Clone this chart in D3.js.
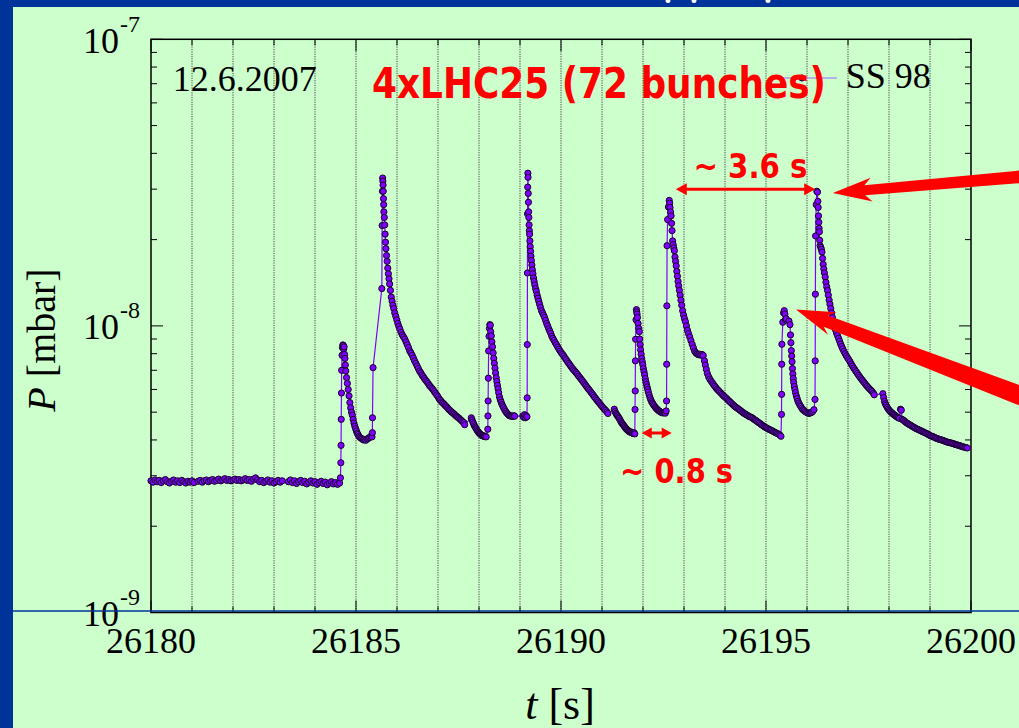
<!DOCTYPE html>
<meta charset="utf-8">

<!-- Load d3.js -->
<script src="https://cdn.jsdelivr.net/npm/d3@7"></script>

<style>
  body { margin: 0; background: #ccffcc; overflow: hidden; }
  svg text { font-family: "Liberation Serif", "Times New Roman", serif; }
  .red { font-family: "Comic Sans MS", "DejaVu Sans", sans-serif; font-weight: bold; fill: #ff0000; }
</style>

<div id="my_dataviz"></div>

<script>

  // pressures are in units of 1e-9 mbar, times in s
  var UNIT = 1e-9;

  var xTickValues = [26180, 26185, 26190, 26195, 26200];
  var yDecades = [1e-9, 1e-8, 1e-7];
  var yExponents = ["-9", "-8", "-7"];

  // flat level before injection
  var baseline = [
    [26180.00,2.88],[26180.05,2.85],[26180.10,2.90],[26180.15,2.86],[26180.20,2.89],[26180.25,2.84],
    [26180.30,2.88],[26180.35,2.91],[26180.40,2.86],[26180.45,2.83],[26180.50,2.87],[26180.55,2.90],
    [26180.60,2.85],[26180.65,2.88],[26180.70,2.84],[26180.75,2.89],[26180.80,2.86],[26180.85,2.83],
    [26180.90,2.87],[26180.95,2.85],[26181.00,2.88],[26181.05,2.84],
    [26181.15,2.87],[26181.20,2.89],[26181.25,2.85],[26181.30,2.88],[26181.35,2.90],[26181.40,2.86],
    [26181.45,2.89],[26181.50,2.91],[26181.55,2.87],[26181.60,2.89],[26181.65,2.92],[26181.70,2.88],
    [26181.75,2.90],[26181.80,2.93],[26181.85,2.89],[26181.90,2.91],[26181.95,2.88],[26182.00,2.90],
    [26182.05,2.92],[26182.10,2.89],[26182.15,2.91],[26182.20,2.88],[26182.25,2.90],[26182.30,2.93],
    [26182.35,2.89],[26182.40,2.91],[26182.45,2.87],[26182.50,2.92],[26182.55,2.95],[26182.60,2.90],
    [26182.65,2.86],[26182.70,2.89],[26182.75,2.84],[26182.80,2.87],[26182.85,2.90],[26182.90,2.85],
    [26182.95,2.88],[26183.00,2.83],[26183.05,2.86],[26183.10,2.89],[26183.15,2.85],[26183.20,2.88],
    [26183.35,2.86],[26183.40,2.90],[26183.45,2.84],[26183.50,2.88],[26183.55,2.82],[26183.60,2.86],
    [26183.65,2.89],[26183.70,2.84],[26183.75,2.87],[26183.80,2.81],[26183.85,2.85],[26183.90,2.88],
    [26183.95,2.83],[26184.00,2.86],[26184.05,2.80],[26184.10,2.84],[26184.15,2.87],[26184.20,2.82],
    [26184.25,2.85],[26184.30,2.79],[26184.35,2.83],[26184.40,2.86],[26184.45,2.81],[26184.50,2.84],
    [26184.55,2.80],[26184.60,2.83]
  ];

  // first (small) pressure rise
  var rise1 = [
    [26184.620,2.95],[26184.630,3.33],[26184.635,3.83],[26184.640,4.72],[26184.645,5.83],[26184.650,7.00],
    [26184.660,7.90],[26184.670,8.40],[26184.680,8.58],[26184.690,8.55],[26184.700,8.30],[26184.710,8.45],
    [26184.720,7.95],[26184.730,7.70],[26184.740,7.30],[26184.750,6.96],[26184.770,6.60],[26184.790,6.30],
    [26184.810,6.00],[26184.830,5.70],[26184.850,5.40],[26184.870,5.18],[26184.890,5.00],[26184.910,4.88],
    [26184.930,4.72],[26184.950,4.58],[26184.970,4.47],[26184.990,4.38],[26185.010,4.30],[26185.030,4.22],
    [26185.050,4.18],[26185.070,4.12],[26185.090,4.09],[26185.120,4.06],[26185.150,4.03],[26185.180,4.00],
    [26185.210,4.01],[26185.240,3.99],[26185.270,4.03],[26185.300,4.05],[26185.330,4.08],[26185.360,4.12],
    [26185.390,4.10]
  ];

  // second rise and long decay
  var rise2 = [
    [26185.400,4.24],[26185.402,4.78],[26185.416,7.15],[26185.630,13.5],[26185.638,22.4],[26185.645,29.5],
    [26185.650,32.8],[26185.655,32.0],[26185.660,31.0],[26185.665,29.5],[26185.670,27.8],[26185.675,26.5],
    [26185.680,25.0],[26185.690,23.9],[26185.700,22.5],[26185.710,20.9],[26185.720,19.6],[26185.730,18.6],
    [26185.745,17.6],[26185.760,16.8],[26185.775,15.9],[26185.790,15.2],[26185.805,14.6],[26185.820,14.0],
    [26185.840,13.3],[26185.860,12.6],[26185.880,12.2],[26185.900,11.8],[26185.920,11.5],[26185.945,11.1],
    [26185.970,10.8],[26185.995,10.5],[26186.020,10.2],[26186.045,9.95],[26186.070,9.75],[26186.100,9.50],
    [26186.130,9.30],[26186.160,9.15],[26186.190,9.00],[26186.220,8.80],[26186.250,8.60],[26186.280,8.40],
    [26186.310,8.18],[26186.340,8.05],[26186.370,7.90],[26186.400,7.72],[26186.430,7.55],[26186.460,7.40],
    [26186.490,7.25],[26186.520,7.10],[26186.550,6.96],[26186.580,6.86],[26186.610,6.74],[26186.640,6.65],
    [26186.670,6.55],[26186.700,6.46],[26186.730,6.38],[26186.760,6.30],[26186.790,6.20],[26186.820,6.13],
    [26186.850,6.06],[26186.880,5.99],[26186.910,5.90],[26186.940,5.82],[26186.970,5.74],[26187.000,5.66],
    [26187.030,5.56],[26187.060,5.50],[26187.090,5.43],[26187.120,5.38],[26187.150,5.33],[26187.180,5.27],
    [26187.210,5.22],[26187.240,5.16],[26187.270,5.10],[26187.300,5.06],[26187.330,5.01],[26187.360,4.97],
    [26187.390,4.93],[26187.420,4.88],[26187.450,4.84],[26187.480,4.80],[26187.510,4.77],[26187.540,4.72],
    [26187.570,4.68],[26187.600,4.63],[26187.630,4.60],[26187.650,4.52]
  ];

  // third (small) rise
  var rise3 = [
    [26187.812,4.78],[26187.830,4.70],[26187.850,4.62],[26187.870,4.55],[26187.890,4.48],[26187.910,4.43],
    [26187.930,4.38],[26187.950,4.33],[26187.970,4.29],[26187.990,4.25],[26188.010,4.22],[26188.030,4.19],
    [26188.050,4.17],[26188.070,4.15],[26188.090,4.13],[26188.110,4.14],[26188.130,4.11],[26188.150,4.12],
    [26188.175,4.10],[26188.215,4.36],[26188.218,4.85],[26188.222,5.47],[26188.228,6.57],[26188.235,8.18],
    [26188.245,9.20],[26188.255,9.80],[26188.265,10.1],[26188.275,10.05],[26188.285,9.55],[26188.300,9.23],
    [26188.315,8.80],[26188.330,8.45],[26188.345,8.05],[26188.360,7.70],[26188.375,7.40],[26188.390,7.12],
    [26188.405,6.85],[26188.420,6.60],[26188.435,6.40],[26188.450,6.20],[26188.465,6.03],[26188.480,5.85],
    [26188.500,5.65],[26188.520,5.52],[26188.540,5.42],[26188.560,5.32],[26188.580,5.25],[26188.600,5.18],
    [26188.625,5.10],[26188.650,5.03],[26188.675,4.97],[26188.700,4.93],[26188.725,4.88],[26188.750,4.86],
    [26188.775,4.84],[26188.800,4.85],[26188.825,4.83],[26188.850,4.86],[26188.870,4.84]
  ];

  // fourth rise and decay
  var rise4 = [
    [26189.070,4.85],[26189.090,4.80],[26189.110,4.90],[26189.130,4.78],[26189.150,4.86],[26189.170,4.82],
    [26189.175,5.61],[26189.178,8.61],[26189.181,15.3],[26189.184,24.6],[26189.188,30.5],[26189.192,34.1],
    [26189.196,33.0],[26189.201,29.0],[26189.206,27.0],[26189.211,25.0],[26189.216,23.9],[26189.222,22.5],
    [26189.228,21.5],[26189.234,20.9],[26189.242,19.8],[26189.250,18.9],[26189.258,18.2],[26189.267,17.5],
    [26189.278,16.9],[26189.290,16.3],[26189.302,15.7],[26189.316,15.2],[26189.330,14.7],[26189.345,14.3],
    [26189.362,13.9],[26189.380,13.5],[26189.398,13.2],[26189.418,12.8],[26189.438,12.5],[26189.458,12.2],
    [26189.478,11.9],[26189.500,11.6],[26189.525,11.3],[26189.550,11.1],[26189.575,10.9],[26189.600,10.7],
    [26189.625,10.45],[26189.650,10.2],[26189.675,10.0],[26189.700,9.78],[26189.725,9.60],[26189.750,9.42],
    [26189.775,9.20],[26189.800,9.05],[26189.830,8.90],[26189.860,8.74],[26189.890,8.60],[26189.920,8.44],
    [26189.950,8.30],[26189.980,8.17],[26190.010,8.05],[26190.040,7.95],[26190.070,7.85],[26190.100,7.72],
    [26190.130,7.62],[26190.160,7.50],[26190.190,7.40],[26190.220,7.30],[26190.250,7.20],[26190.280,7.10],
    [26190.310,7.02],[26190.340,6.94],[26190.370,6.86],[26190.400,6.78],[26190.430,6.68],[26190.460,6.60],
    [26190.490,6.52],[26190.520,6.44],[26190.550,6.35],[26190.580,6.27],[26190.610,6.18],[26190.640,6.10],
    [26190.670,6.02],[26190.700,5.95],[26190.730,5.87],[26190.760,5.80],[26190.790,5.72],[26190.820,5.64],
    [26190.850,5.57],[26190.880,5.50],[26190.910,5.43],[26190.940,5.37],[26190.970,5.30],[26191.000,5.24],
    [26191.030,5.18],[26191.060,5.12],[26191.090,5.07],[26191.120,5.01],[26191.145,4.95]
  ];

  // fifth (small) rise
  var rise5 = [
    [26191.300,5.12],[26191.320,5.02],[26191.340,4.95],[26191.360,4.90],[26191.380,4.85],[26191.400,4.80],
    [26191.420,4.76],[26191.440,4.70],[26191.460,4.64],[26191.480,4.59],[26191.500,4.55],[26191.520,4.51],
    [26191.540,4.47],[26191.560,4.43],[26191.580,4.39],[26191.600,4.36],[26191.620,4.33],[26191.640,4.31],
    [26191.660,4.28],[26191.680,4.26],[26191.700,4.27],[26191.720,4.24],[26191.740,4.23],[26191.760,4.21],
    [26191.780,4.24],[26191.800,4.20],[26191.806,5.11],[26191.810,5.93],[26191.815,7.55],[26191.820,8.98],
    [26191.830,10.5],[26191.840,11.4],[26191.846,11.2],[26191.855,11.0],[26191.865,10.7],[26191.880,10.2],
    [26191.895,9.80],[26191.910,9.55],[26191.920,9.00],[26191.930,8.60],[26191.942,8.25],[26191.955,7.96],
    [26191.968,7.70],[26191.982,7.50],[26191.995,7.32],[26192.010,7.10],[26192.025,6.92],[26192.040,6.75],
    [26192.055,6.55],[26192.070,6.38],[26192.085,6.25],[26192.100,6.12],[26192.115,6.00],[26192.130,5.88],
    [26192.150,5.74],[26192.170,5.62],[26192.190,5.52],[26192.210,5.44],[26192.230,5.38],[26192.250,5.32],
    [26192.275,5.26],[26192.300,5.20],[26192.325,5.15],[26192.350,5.11],[26192.375,5.07],[26192.400,5.04],
    [26192.425,5.01],[26192.450,4.99],[26192.475,4.97],[26192.500,4.98],[26192.525,5.00],[26192.545,4.96],
    [26192.565,5.05]
  ];

  // sixth rise and decay
  var rise6 = [
    [26192.575,5.47],[26192.578,7.35],[26192.582,11.75],[26192.587,19.05],[26192.600,23.5],[26192.620,26.0],
    [26192.640,27.4],[26192.650,26.8],[26192.660,25.9],[26192.672,25.0],[26192.685,24.2],[26192.697,22.8],
    [26192.709,21.5],[26192.723,19.8],[26192.737,19.2],[26192.751,18.7],[26192.765,18.3],[26192.780,17.4],
    [26192.795,16.8],[26192.810,16.2],[26192.825,15.5],[26192.840,14.9],[26192.855,14.3],[26192.870,13.8],
    [26192.887,13.3],[26192.905,12.8],[26192.925,12.3],[26192.945,11.8],[26192.967,11.3],[26192.990,10.9],
    [26193.012,10.6],[26193.035,10.35],[26193.060,10.0],[26193.085,9.65],[26193.110,9.40],[26193.140,9.15],
    [26193.170,8.88],[26193.200,8.62],[26193.230,8.38],[26193.260,8.16],[26193.290,8.05],[26193.320,7.98],
    [26193.350,7.94],[26193.380,7.97],[26193.410,7.90],[26193.440,7.95],[26193.470,7.88],[26193.500,7.55],
    [26193.520,7.30],[26193.545,7.05],[26193.570,6.82],[26193.600,6.65],[26193.630,6.52],[26193.660,6.42],
    [26193.690,6.34],[26193.720,6.24],[26193.750,6.16],[26193.780,6.08],[26193.810,6.01],[26193.840,5.95],
    [26193.870,5.89],[26193.900,5.83],[26193.930,5.77],[26193.960,5.71],[26193.990,5.66],[26194.020,5.61],
    [26194.050,5.56],[26194.080,5.50],[26194.110,5.45],[26194.140,5.40],[26194.170,5.35],[26194.200,5.30],
    [26194.230,5.25],[26194.260,5.21],[26194.290,5.17],[26194.320,5.14],[26194.350,5.10],[26194.380,5.06],
    [26194.410,5.02],[26194.440,4.98],[26194.470,4.95],[26194.500,4.92],[26194.530,4.89],[26194.560,4.86],
    [26194.590,4.83],[26194.620,4.81],[26194.650,4.79],[26194.680,4.76],[26194.710,4.72],[26194.740,4.69],
    [26194.770,4.66],[26194.800,4.62],[26194.830,4.59],[26194.860,4.56],[26194.890,4.52],[26194.920,4.49],
    [26194.950,4.46],[26194.980,4.43],[26195.010,4.41],[26195.040,4.38],[26195.070,4.36],[26195.100,4.34],
    [26195.130,4.32],[26195.160,4.30],[26195.190,4.27],[26195.220,4.25],[26195.250,4.23],[26195.280,4.21],
    [26195.310,4.19],[26195.340,4.16],[26195.365,4.12]
  ];

  // seventh (small) rise
  var rise7 = [
    [26195.378,4.91],[26195.381,5.77],[26195.384,7.35],[26195.388,8.63],[26195.410,10.3],[26195.430,11.1],
    [26195.445,11.3],[26195.460,11.0],[26195.475,10.5],[26195.490,10.6],[26195.560,10.4],[26195.585,10.1],
    [26195.598,9.30],[26195.608,8.74],[26195.618,8.20],[26195.627,7.85],[26195.636,7.50],[26195.645,7.10],
    [26195.655,6.80],[26195.665,6.55],[26195.675,6.35],[26195.690,6.15],[26195.705,6.00],[26195.720,5.85],
    [26195.740,5.70],[26195.760,5.58],[26195.780,5.46],[26195.800,5.38],[26195.825,5.30],[26195.850,5.23],
    [26195.875,5.16],[26195.900,5.10],[26195.930,5.06],[26195.960,5.02],[26195.990,4.99],[26196.020,4.97],
    [26196.050,4.95],[26196.080,4.97],[26196.110,4.99],[26196.140,5.03],[26196.170,5.10]
  ];

  // eighth rise and decay to the end
  var rise8 = [
    [26196.195,5.54],[26196.200,7.55],[26196.204,12.9],[26196.210,20.6],[26196.225,26.5],[26196.240,29.5],
    [26196.255,29.3],[26196.265,27.2],[26196.272,25.9],[26196.280,24.2],[26196.288,23.0],[26196.295,21.9],
    [26196.302,21.3],[26196.310,19.9],[26196.320,19.05],[26196.335,18.8],[26196.350,18.5],[26196.365,18.1],
    [26196.380,17.2],[26196.395,16.4],[26196.410,15.8],[26196.425,15.3],[26196.443,14.8],[26196.462,14.2],
    [26196.481,13.7],[26196.500,13.3],[26196.520,12.8],[26196.540,12.3],[26196.560,11.9],[26196.580,11.5],
    [26196.600,11.1],[26196.620,10.7],[26196.645,10.3],[26196.670,10.0],[26196.695,9.70],[26196.720,9.45],
    [26196.745,9.25],[26196.770,9.05],[26196.795,8.85],[26196.820,8.65],[26196.845,8.48],[26196.870,8.32],
    [26196.900,8.15],[26196.930,8.00],[26196.960,7.86],[26196.990,7.74],[26197.020,7.62],[26197.050,7.50],
    [26197.080,7.36],[26197.110,7.24],[26197.140,7.12],[26197.170,7.02],[26197.200,6.92],[26197.230,6.82],
    [26197.260,6.72],[26197.290,6.63],[26197.320,6.54],[26197.350,6.46],[26197.380,6.38],[26197.410,6.30],
    [26197.440,6.22],[26197.470,6.15],[26197.500,6.08],[26197.530,6.02],[26197.560,5.96],[26197.590,5.90],
    [26197.620,5.82],[26197.640,5.75],
    [26197.850,5.80],[26197.870,5.62],[26197.890,5.45],[26197.910,5.35],[26197.930,5.28],[26197.955,5.20],
    [26197.980,5.13],[26198.005,5.08],[26198.030,5.03],[26198.055,4.99],[26198.080,4.96],[26198.105,4.92],
    [26198.130,4.89],[26198.155,4.86],[26198.180,4.83],[26198.205,4.80],[26198.230,4.78],[26198.255,4.76],
    [26198.280,5.12],[26198.300,5.08],[26198.320,4.72],[26198.350,4.69],[26198.380,4.65],[26198.410,4.61],
    [26198.440,4.58],[26198.470,4.55],[26198.500,4.52],[26198.530,4.50],[26198.560,4.47],[26198.590,4.44],
    [26198.620,4.42],[26198.650,4.39],[26198.680,4.37],[26198.710,4.35],[26198.740,4.33],[26198.770,4.31],
    [26198.800,4.29],[26198.830,4.27],[26198.860,4.25],[26198.890,4.23],[26198.920,4.21],[26198.950,4.19],
    [26198.980,4.16],[26199.010,4.14],[26199.040,4.12],[26199.070,4.11],[26199.100,4.09],[26199.130,4.07],
    [26199.160,4.05],[26199.190,4.04],[26199.220,4.02],[26199.250,4.01],[26199.280,4.00],[26199.310,3.99],
    [26199.340,3.97],[26199.370,3.96],[26199.400,3.94],[26199.430,3.93],[26199.460,3.92],[26199.490,3.91],
    [26199.520,3.90],[26199.550,3.89],[26199.580,3.88],[26199.610,3.86],[26199.640,3.85],[26199.670,3.84],
    [26199.700,3.83],[26199.730,3.82],[26199.760,3.80],[26199.790,3.79],[26199.820,3.78],[26199.850,3.77],
    [26199.880,3.76],[26199.910,3.75]
  ];

  var data = [].concat(baseline, rise1, rise2, rise3, rise4, rise5, rise6, rise7, rise8);

  // annotations, in data units [t, p/1e-9]
  var period36 = [[26192.80, 30.0], [26196.20, 30.0]];
  var period08 = [[26191.97, 4.23], [26192.70, 4.23]];
  var arrowBig = [[26196.63, 29.1], [26201.70, 33.6]];     // tip, tail
  var arrowSmall = [[26195.73, 11.4], [26201.80, 5.3]];

  // set the dimensions and margins of the graph
  var margin = { top: 39.3, right: 48, bottom: 115.5, left: 151 },
    width = 1019 - margin.left - margin.right,
    height = 728 - margin.top - margin.bottom;

  var root = d3.select("#my_dataviz")
    .append("svg")
    .attr("width", 1019)
    .attr("height", 728);

  // slide background
  root.append("rect").attr("width", 1019).attr("height", 728).attr("fill", "#ccffcc");
  root.append("rect").attr("width", 1019).attr("height", 7).attr("fill", "#003399");
  root.append("rect").attr("width", 13).attr("height", 728).attr("fill", "#003399");
  [668, 694, 768].forEach(function (cx) {
    root.append("ellipse").attr("cx", cx).attr("cy", 1).attr("rx", 2.5).attr("ry", 2).attr("fill", "#fff");
  });

  var svg = root.append("g")
    .attr("transform", "translate(" + margin.left + "," + margin.top + ")");

  var x = d3.scaleLinear().domain([26180, 26200]).range([0, width]);
  var y = d3.scaleLog().domain([1e-9, 1e-7]).range([height, 0]);

  // dotted vertical grid every second
  svg.append("g")
    .selectAll("line")
    .data(x.ticks(20).filter(function (d) { return d > 26180 && d < 26200; }))
    .enter()
    .append("line")
    .attr("x1", function (d) { return x(d); })
    .attr("x2", function (d) { return x(d); })
    .attr("y1", 0)
    .attr("y2", height)
    .attr("stroke", "#444")
    .attr("stroke-width", 1)
    .attr("stroke-dasharray", "1.2,1.2");

  // ticks on all four sides, pointing inward
  var ticks = svg.append("g").attr("stroke", "#000").attr("stroke-width", 1);
  x.ticks(20).forEach(function (d) {
    var len = (d % 5 === 0) ? 12 : 6;
    ticks.append("line").attr("x1", x(d)).attr("x2", x(d)).attr("y1", height).attr("y2", height - len);
    ticks.append("line").attr("x1", x(d)).attr("x2", x(d)).attr("y1", 0).attr("y2", len);
  });
  y.ticks().forEach(function (d) {
    var len = yDecades.indexOf(d) >= 0 ? 12 : 6;
    ticks.append("line").attr("x1", 0).attr("x2", len).attr("y1", y(d)).attr("y2", y(d));
    ticks.append("line").attr("x1", width).attr("x2", width - len).attr("y1", y(d)).attr("y2", y(d));
  });

  // slide rule line
  root.append("line")
    .attr("x1", 13).attr("x2", 1019).attr("y1", 611).attr("y2", 611)
    .attr("stroke", "#003399").attr("stroke-width", 1.5);

  // frame
  svg.append("rect")
    .attr("width", width).attr("height", height)
    .attr("fill", "none").attr("stroke", "#000").attr("stroke-width", 1.5);

  // data
  svg.append("clipPath").attr("id", "plotclip")
    .append("rect").attr("x", -4).attr("y", -4).attr("width", width + 8).attr("height", height + 8);

  var plot = svg.append("g").attr("clip-path", "url(#plotclip)");

  plot.append("path")
    .datum(data)
    .attr("fill", "none")
    .attr("stroke", "#8000ff")
    .attr("stroke-width", 1.2)
    .attr("d", d3.line()
      .x(function (d) { return x(d[0]); })
      .y(function (d) { return y(d[1] * UNIT); }));

  plot.append("g")
    .selectAll("circle")
    .data(data)
    .enter()
    .append("circle")
    .attr("cx", function (d) { return x(d[0]); })
    .attr("cy", function (d) { return y(d[1] * UNIT); })
    .attr("r", 3.1)
    .attr("fill", "#7f00ff")
    .attr("stroke", "#160028")
    .attr("stroke-width", 1);

  // x tick labels
  svg.append("g")
    .selectAll("text")
    .data(xTickValues)
    .enter()
    .append("text")
    .attr("x", function (d) { return x(d); })
    .attr("y", height + 41)
    .attr("text-anchor", "middle")
    .attr("font-size", 36)
    .text(function (d) { return d; });

  // y tick labels 10^n
  yDecades.forEach(function (d, i) {
    var t = svg.append("text")
      .attr("x", -68)
      .attr("y", y(d) + 13.5)
      .attr("font-size", 36);
    t.append("tspan").text("10");
    t.append("tspan").attr("dy", -21).attr("dx", 1).attr("font-size", 24).text(yExponents[i]);
  });

  // axis titles
  var xt = root.append("text")
    .attr("x", 560).attr("y", 719)
    .attr("text-anchor", "middle")
    .attr("font-size", 44);
  xt.append("tspan").attr("font-style", "italic").text("t");
  xt.append("tspan").text(" [s]");

  var yt = root.append("text")
    .attr("transform", "translate(55,340) rotate(-90)")
    .attr("text-anchor", "middle")
    .attr("font-size", 40);
  yt.append("tspan").attr("font-style", "italic").text("P");
  yt.append("tspan").text(" [mbar]");

  // date and legend
  root.append("text").attr("x", 172.7).attr("y", 90.7).attr("font-size", 36).text("12.6.2007");

  root.append("line")
    .attr("x1", 770).attr("x2", 837).attr("y1", 78).attr("y2", 78)
    .attr("stroke", "#9966ff").attr("stroke-width", 1.2);
  root.append("circle")
    .attr("cx", 802).attr("cy", 78).attr("r", 3.1)
    .attr("fill", "#7f00ff").attr("stroke", "#160028").attr("stroke-width", 1);
  root.append("text").attr("x", 845.7).attr("y", 88.3).attr("font-size", 36).text("SS 98");

  root.append("text")
    .attr("class", "red")
    .attr("x", 372).attr("y", 98)
    .attr("font-size", 43)
    .attr("textLength", 454)
    .attr("lengthAdjust", "spacingAndGlyphs")
    .text("4xLHC25 (72 bunches)");

  // double-headed period arrows
  function periodArrow(pts, head, half) {
    var x0 = x(pts[0][0]), x1 = x(pts[1][0]), yy = y(pts[0][1] * UNIT);
    svg.append("line")
      .attr("x1", x0 + head - 1).attr("x2", x1 - head + 1).attr("y1", yy).attr("y2", yy)
      .attr("stroke", "#ff0000").attr("stroke-width", 3);
    svg.append("path")
      .attr("d", "M" + x0 + "," + yy + "L" + (x0 + head) + "," + (yy - half) + "L" + (x0 + head) + "," + (yy + half) + "Z")
      .attr("fill", "#ff0000");
    svg.append("path")
      .attr("d", "M" + x1 + "," + yy + "L" + (x1 - head) + "," + (yy - half) + "L" + (x1 - head) + "," + (yy + half) + "Z")
      .attr("fill", "#ff0000");
  }
  periodArrow(period36, 11, 6);
  periodArrow(period08, 10, 5.5);

  svg.append("text")
    .attr("class", "red")
    .attr("x", x(26194.62)).attr("y", y(32.8 * UNIT))
    .attr("text-anchor", "middle")
    .attr("font-size", 33)
    .attr("textLength", 114)
    .attr("lengthAdjust", "spacingAndGlyphs")
    .text("~ 3.6 s");

  svg.append("text")
    .attr("class", "red")
    .attr("x", x(26192.82)).attr("y", y(2.83 * UNIT))
    .attr("text-anchor", "middle")
    .attr("font-size", 33)
    .attr("textLength", 113)
    .attr("lengthAdjust", "spacingAndGlyphs")
    .text("~ 0.8 s");

  // big pointing arrows
  function bigArrow(pts, w0, w1) {
    var tx = x(pts[0][0]), ty = y(pts[0][1] * UNIT);
    var ex = x(pts[1][0]), ey = y(pts[1][1] * UNIT);
    var len = Math.hypot(ex - tx, ey - ty);
    var ux = (ex - tx) / len, uy = (ey - ty) / len;
    var nx = -uy, ny = ux;
    var hl = 39, hw = 12, nl = 32;
    function p(a, b) { return [tx + ux * a + nx * b, ty + uy * a + ny * b]; }
    var poly = [p(0, 0), p(hl, hw), p(nl, w0), p(len, w1), p(len, -w1), p(nl, -w0), p(hl, -hw)];
    svg.append("path")
      .attr("d", "M" + poly.map(function (q) { return q[0] + "," + q[1]; }).join("L") + "Z")
      .attr("fill", "#ff0000");
  }
  bigArrow(arrowBig, 5, 6.5);
  bigArrow(arrowSmall, 6, 10);

</script>
